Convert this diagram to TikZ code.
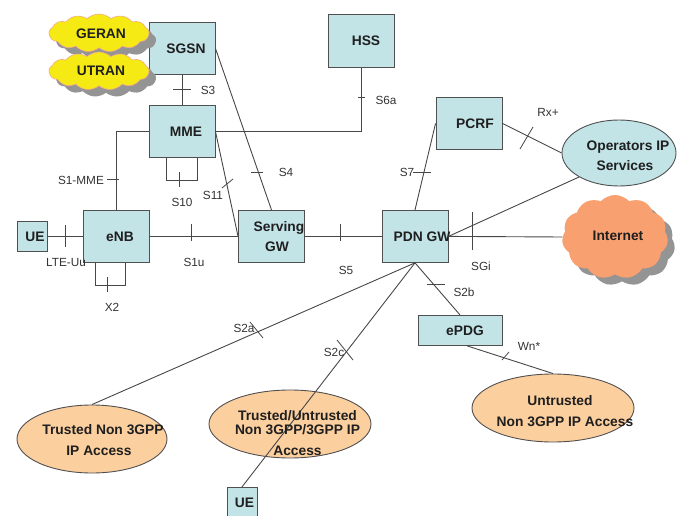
\documentclass[tikz,border=0pt]{standalone}
\usepackage{fontspec}
\setmainfont{Liberation Sans}
\usetikzlibrary{shapes.geometric,shapes.symbols,calc}
\definecolor{boxfill}{HTML}{C3E4E7}
\definecolor{boxline}{HTML}{505050}
\definecolor{peach}{HTML}{FCCF9F}
\definecolor{cloudyellow}{HTML}{F5EA14}
\definecolor{cloudedge}{HTML}{F4A98A}
\definecolor{inetorange}{HTML}{F9A070}
\definecolor{shadowgray}{HTML}{949494}
\tikzset{
  boxnode/.style={draw=boxline,fill=boxfill,line width=0.9pt,rectangle,inner sep=0pt,align=center,
    font=\fontsize{13.8}{20.5}\selectfont\bfseries,text=black!88},
  ovalnode/.style={draw=boxline,line width=0.9pt,ellipse,inner sep=0pt},
  oval/.style={ovalnode,fill=peach},
  ovalblue/.style={ovalnode,fill=boxfill},
  ovaltext/.style={inner sep=0pt,align=center,font=\fontsize{13.8}{20}\selectfont\bfseries,text=black!88},
  cloudnode/.style={cloud,cloud puffs=13,cloud puff arc=85,aspect=2.6,inner sep=0pt},
  inetcloud/.style={cloudnode,cloud puffs=11,cloud puff arc=95,aspect=1.3,minimum width=106pt,minimum height=84pt},
  conn/.style={draw=black!72,line width=0.9pt},
  tick/.style={draw=black!72,line width=0.8pt},
  iflabel/.style={inner sep=0pt,font=\fontsize{11.8}{13}\selectfont,text=black!80},
}
\begin{document}
\begin{tikzpicture}[x=1pt,y=-1pt]
\useasboundingbox (0,0) rectangle (681,516);
\clip (0,0) rectangle (681,516);
% boxes
\node[boxnode,minimum width=66pt,minimum height=52pt] (sgsn) at (182,48.4) {\hspace{8pt}SGSN};
\node[boxnode,minimum width=66pt,minimum height=52pt] (mme) at (182,131.4) {\hspace{8pt}MME};
\node[boxnode,minimum width=66pt,minimum height=53pt] (hss) at (361,40.9) {\hspace{10pt}HSS};
\node[boxnode,minimum width=66pt,minimum height=52pt] (pcrf) at (469,123.4) {\hspace{12pt}PCRF};
\node[boxnode,minimum width=30pt,minimum height=30pt] (ue) at (32,236.4) {\hspace{6pt}UE};
\node[boxnode,minimum width=66pt,minimum height=52pt] (enb) at (116,236.4) {\hspace{8pt}eNB};
\node[boxnode,minimum width=66pt,minimum height=52pt] (sgw) at (271.5,236.4) {\hspace{15pt}\makebox[0pt][c]{Serving}\\\hspace{11pt}GW};
\node[boxnode,minimum width=66pt,minimum height=52pt] (pdn) at (415,236.4) {\hspace{14pt}\makebox[0pt][c]{PDN GW}};
\node[boxnode,minimum width=84pt,minimum height=30pt] (epdg) at (460,330.4) {\hspace{10pt}ePDG};
\node[boxnode,minimum width=30pt,minimum height=30pt] (uetwo) at (242,502.4) {\hspace{5pt}UE};
% ovals
\node[ovalblue,minimum width=114pt,minimum height=66pt] (ops) at (619,153) {};
\node[oval,minimum width=150pt,minimum height=68pt] (trusted) at (92,439) {};
\node[oval,minimum width=162pt,minimum height=68pt] (both) at (290,424) {};
\node[oval,minimum width=162pt,minimum height=68pt] (untrusted) at (553,408) {};
% clouds
\node[cloudnode,fill=shadowgray,minimum width=100pt,minimum height=38pt] (geranshadow) at (106,40) {};
\node[cloudnode,fill=cloudyellow,draw=cloudedge,line width=0.6pt,minimum width=100pt,minimum height=38pt] (geran) at (99,33) {};
\node[cloudnode,fill=shadowgray,minimum width=100pt,minimum height=38pt] (utranshadow) at (106,78) {};
\node[cloudnode,fill=cloudyellow,draw=cloudedge,line width=0.6pt,minimum width=100pt,minimum height=38pt] (utran) at (99,71) {};
\node[inetcloud,fill=shadowgray] (inetshadow) at (622,244) {};
\node[inetcloud,fill=inetorange] (inet) at (615,237) {};
% connectors
\draw[conn] (sgsn.south) -- (mme.north);
\draw[conn] (sgsn.east) -- (sgw.north);
\draw[conn] (mme.east) -- (sgw.west);
\draw[conn] (mme.west) -| (enb.north);
\draw[conn] (mme.east) -| (hss.south);
\draw[conn] ($(mme.south)+(-16,0)$) |- ($(mme.south)+(15,23)$) -- ($(mme.south)+(15,0)$);
\draw[conn] ($(enb.south)+(-21,0)$) |- ($(enb.south)+(9,23)$) -- ($(enb.south)+(9,0)$);
\draw[conn] (ue.east) -- (enb.west);
\draw[conn] (enb.east) -- (sgw.west);
\draw[conn] (sgw.east) -- (pdn.west);
\draw[conn] (pdn.north) -- (pcrf.west);
\draw[conn] (pcrf.east) -- (ops.west);
\draw[conn] (ops.211) -- (pdn.east);
\draw[conn] (pdn.east) -- (inet.west);
\draw[conn] (pdn.south) -- (trusted.north);
\draw[conn] (pdn.south) -- (uetwo.north);
\draw[conn] (pdn.south) -- (epdg.north);
\draw[conn] ($(epdg.south)+(7,0)$) -- (untrusted.north);
% interface ticks
\draw[tick] (173,89) -- (191,89);
\draw[tick] (251,172) -- (263,172);
\draw[tick] (222,188) -- (233,179);
\draw[tick] (107,179) -- (119,179);
\draw[tick] (179,172) -- (179,187);
\draw[tick] (65,225) -- (65,247);
\draw[tick] (191,224) -- (191,241);
\draw[tick] (340,224) -- (340,241);
\draw[tick] (358,97) -- (365,97);
\draw[tick] (413,172) -- (431,172);
\draw[tick] (520,149) -- (533,127);
\draw[tick] (472,212) -- (472,250);
\draw[tick] (427,284.5) -- (445,284.5);
\draw[tick] (502,360) -- (509,352);
\draw[tick] (250,322) -- (263,338);
\draw[tick] (337,340) -- (353,360);
\draw[tick] (107,277) -- (107,292);
% oval and cloud texts
\node[ovaltext] (opstext) at (625,155.5) {\hspace{6pt}Operators IP\\[-0.5pt]Services};
\node[ovaltext] (trustedtext) at (103,440) {Trusted Non 3GPP\\[0.5pt]\hspace{-8pt}IP Access};
\node[ovaltext] (bothtext) at (297.5,433) {Trusted/Untrusted\\[-6pt]Non 3GPP/3GPP IP\\[1.5pt]Access};
\node[ovaltext] (untrustedtext) at (565,411) {\hspace{-10pt}Untrusted\\[0.5pt]Non 3GPP IP Access};
\node[ovaltext] (gerantext) at (101,34) {GERAN};
\node[ovaltext] (utrantext) at (101,71) {UTRAN};
\node[ovaltext] (inettext) at (618,236) {Internet};
% interface labels
\node[iflabel] (ls3) at (208,90) {S3};
\node[iflabel] (ls4) at (286,172) {S4};
\node[iflabel] (ls6a) at (386,100) {S6a};
\node[iflabel] (ls7) at (407,172) {S7};
\node[iflabel] (lrx) at (548,112) {Rx+};
\node[iflabel] (ls11) at (213,195) {S11};
\node[iflabel] (ls10) at (182,202) {S10};
\node[iflabel] (ls1mme) at (81,180) {S1-MME};
\node[iflabel] (llte) at (66,262) {LTE-Uu};
\node[iflabel] (ls1u) at (194,262) {S1u};
\node[iflabel] (lx2) at (112,307) {X2};
\node[iflabel] (ls5) at (346,270) {S5};
\node[iflabel] (lsgi) at (481,266) {SGi};
\node[iflabel] (ls2b) at (464,292) {S2b};
\node[iflabel] (lwn) at (529,346) {Wn*};
\node[iflabel] (ls2a) at (244,328) {S2a};
\node[iflabel] (ls2c) at (334,352) {S2c};
\end{tikzpicture}
\end{document}
